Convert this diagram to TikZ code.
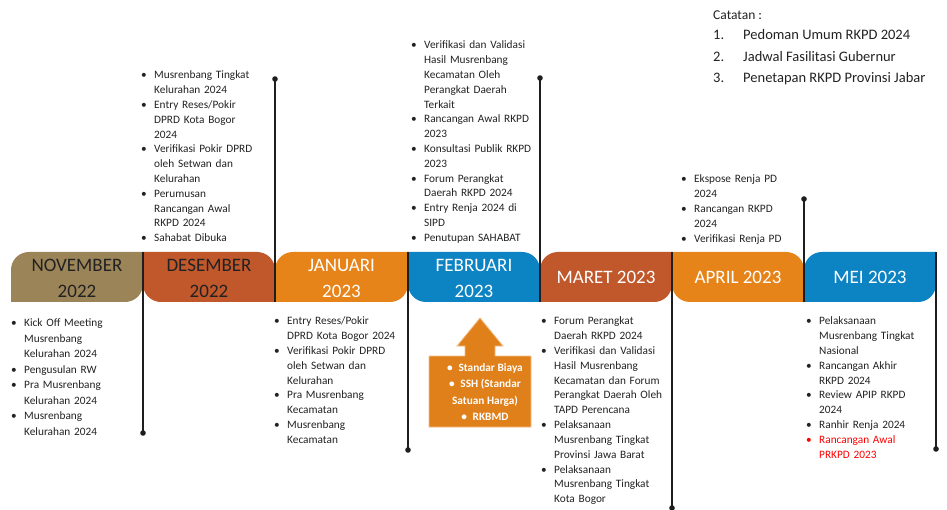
\documentclass[tikz,border=0pt]{standalone}
\usepackage{fontspec}
\setmainfont{Carlito}
\definecolor{cNov}{HTML}{9B8457}
\definecolor{cDes}{HTML}{C0582B}
\definecolor{cJan}{HTML}{E6841A}
\definecolor{cFeb}{HTML}{0C83C3}
\definecolor{txt}{HTML}{222222}
\definecolor{lc}{HTML}{1E1E1E}
\definecolor{boxo}{HTML}{E0801A}
\definecolor{boxe}{HTML}{F2BE86}
\newlength\bind \setlength\bind{13pt}
\newcommand\bitem[1]{\par\noindent\hangindent=\bind\hangafter=1\makebox[\bind][l]{\strut\textbullet}#1\par}
\newcommand\ritem[1]{\par\noindent{\color{red}\hangindent=\bind\hangafter=1\makebox[\bind][l]{\strut\textbullet}#1\par}}
\newcommand\listfont{\fontsize{11.3}{14.8}\selectfont}
\begin{document}
\begin{tikzpicture}[x=1pt,y=-1pt,
  lst/.style={anchor=north west, inner sep=0pt, text width=135pt, align=left, font=\listfont, text=txt},
  mon/.style={align=center, inner sep=0pt, font=\fontsize{19}{26}\selectfont},
  vline/.style={draw=lc, line width=1.4pt},
  cat/.style={anchor=base west, inner sep=0pt, font=\fontsize{14.5}{17}\selectfont, text=txt}]
\useasboundingbox (0,0) rectangle (947,510);
\newcommand\bandA[3]{\fill[#3] (#1,302) -- ++(0,-32) .. controls +(0,-10) and +(-10,0) .. ++(18,-18) -- (#2,252) -- ++(0,32) .. controls +(0,10) and +(10,0) .. ++(-18,18) -- cycle;}
\newcommand\bandB[3]{\fill[#3] (#1,252) -- (#2-18,252) .. controls +(10,0) and +(0,-10) .. ++(18,18) -- (#2,302) -- (#1+18,302) .. controls +(-10,0) and +(0,10) .. ++(-18,-18) -- cycle;}
% band
\bandA{11}{143}{cNov}
\bandB{143}{275}{cDes}
\bandA{275}{408}{cJan}
\bandB{408}{540}{cFeb}
\bandA{540}{672}{cDes}
\bandB{672}{804}{cJan}
\bandA{804}{936}{cFeb}
\node[mon, text=txt] (mNov) at (77,278) {NOVEMBER\\2022};
\node[mon, text=txt] (mDes) at (209,278) {DESEMBER\\2022};
\node[mon, text=white] (mJan) at (341.5,278) {JANUARI\\2023};
\node[mon, text=white] (mFeb) at (474,278) {FEBRUARI\\2023};
\node[mon, text=white] (mMar) at (606,277) {MARET 2023};
\node[mon, text=white] (mApr) at (738,277) {APRIL 2023};
\node[mon, text=white] (mMei) at (870,277) {MEI 2023};
% vertical lines
\coordinate (a1) at (143,252); \coordinate (d1) at (143,433);
\coordinate (a2) at (275,302); \coordinate (d2) at (275,79);
\coordinate (a3) at (408,252); \coordinate (d3) at (408,450);
\coordinate (a4) at (540,302); \coordinate (d4) at (540,78);
\coordinate (a5) at (672,252); \coordinate (d5) at (672,508);
\coordinate (a6) at (804,302); \coordinate (d6) at (804,199);
\coordinate (a7) at (936,252); \coordinate (d7) at (936,449);
\foreach \i in {1,...,7}{\draw[vline] (a\i) -- (d\i); \fill[lc] (d\i) circle (2.8pt);}
% top lists
\node[lst] (tD) at (141,64) {%
\bitem{Musrenbang Tingkat\newline Kelurahan 2024}
\bitem{Entry Reses/Pokir\newline DPRD Kota Bogor\newline 2024}
\bitem{Verifikasi Pokir DPRD\newline oleh Setwan dan\newline Kelurahan}
\bitem{Perumusan\newline Rancangan Awal\newline RKPD 2024}
\bitem{Sahabat Dibuka}};
\node[lst] (tF) at (411,34) {%
\bitem{Verifikasi dan Validasi\newline Hasil Musrenbang\newline Kecamatan Oleh\newline Perangkat Daerah\newline Terkait}
\bitem{Rancangan Awal RKPD\newline 2023}
\bitem{Konsultasi Publik RKPD\newline 2023}
\bitem{Forum Perangkat\newline Daerah RKPD 2024}
\bitem{Entry Renja 2024 di\newline SIPD}
\bitem{Penutupan SAHABAT}};
\node[lst] (tA) at (681,168) {%
\bitem{Ekspose Renja PD\newline 2024}
\bitem{Rancangan RKPD\newline 2024}
\bitem{Verifikasi Renja PD}};
% bottom lists
\node[lst, font=\fontsize{11.3}{15.5}\selectfont] (bN) at (11,311) {%
\bitem{Kick Off Meeting\newline Musrenbang\newline Kelurahan 2024}
\bitem{Pengusulan RW}
\bitem{Pra Musrenbang\newline Kelurahan 2024}
\bitem{Musrenbang\newline Kelurahan 2024}};
\node[lst] (bJ) at (274,310) {%
\bitem{Entry Reses/Pokir\newline DPRD Kota Bogor 2024}
\bitem{Verifikasi Pokir DPRD\newline oleh Setwan dan\newline Kelurahan}
\bitem{Pra Musrenbang\newline Kecamatan}
\bitem{Musrenbang\newline Kecamatan}};
\node[lst] (bM) at (541,310) {%
\bitem{Forum Perangkat\newline Daerah RKPD 2024}
\bitem{Verifikasi dan Validasi\newline Hasil Musrenbang\newline Kecamatan dan Forum\newline Perangkat Daerah Oleh\newline TAPD Perencana}
\bitem{Pelaksanaan\newline Musrenbang Tingkat\newline Provinsi Jawa Barat}
\bitem{Pelaksanaan\newline Musrenbang Tingkat\newline Kota Bogor}};
\node[lst] (bE) at (806,310) {%
\bitem{Pelaksanaan\newline Musrenbang Tingkat\newline Nasional}
\bitem{Rancangan Akhir\newline RKPD 2024}
\bitem{Review APIP RKPD\newline 2024}
\bitem{Ranhir Renja 2024}
\ritem{Rancangan Awal\newline PRKPD 2023}};
% orange arrow box
\filldraw[fill=boxo, draw=boxe, line width=0.8pt]
  (429,356) -- (465,356) -- (465,346) -- (457,346) -- (480,318) -- (503,346) -- (495,346) -- (495,356)
  -- (531,356) -- (531,427) -- (429,427) -- cycle;
\node[align=center, inner sep=0pt, text=white, font=\bfseries\fontsize{11.3}{16.3}\selectfont] (ssh) at (485,392)
  {\textbullet\enspace Standar Biaya\\ \textbullet\enspace SSH (Standar\\ Satuan Harga)\\ \textbullet\enspace RKBMD};
% catatan
\node[cat, font=\fontsize{13.5}{17}\selectfont] (cT) at (713,19.5) {Catatan :};
\node[cat] (c1n) at (713,40) {1.};
\node[cat] (c1) at (743,40) {Pedoman Umum RKPD 2024};
\node[cat] (c2n) at (713,61.5) {2.};
\node[cat] (c2) at (743,61.5) {Jadwal Fasilitasi Gubernur};
\node[cat] (c3n) at (713,83) {3.};
\node[cat] (c3) at (743,83) {Penetapan RKPD Provinsi Jabar};
\end{tikzpicture}
\end{document}
